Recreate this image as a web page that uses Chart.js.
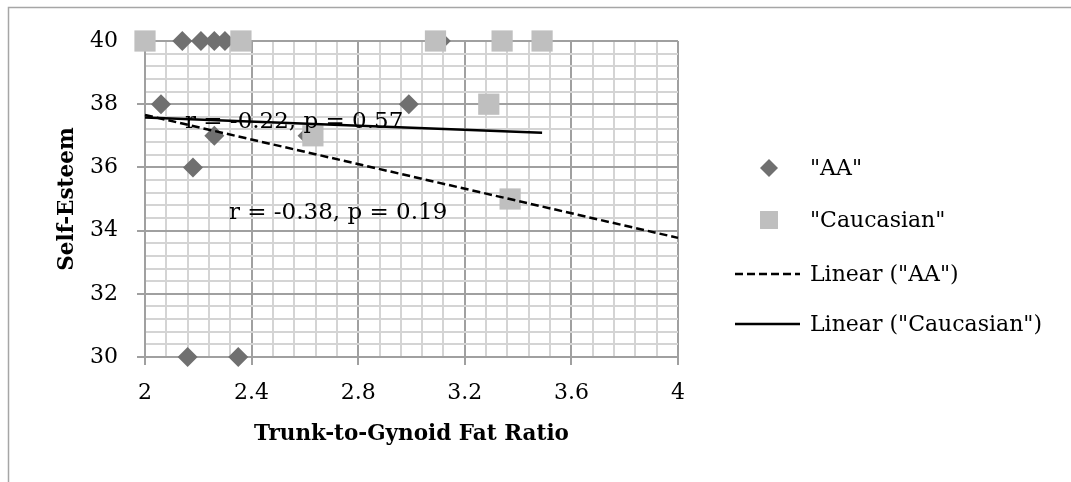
<!DOCTYPE html>
<html>
<head>
<meta charset="utf-8">
<script src="https://cdn.jsdelivr.net/npm/chart.js@4.4.1/dist/chart.umd.min.js"></script>
<style>
  html, body { margin: 0; background: #fff; }
  canvas { display: block; }
</style>
</head>
<body>
<canvas id="chart" width="1071" height="482"></canvas>
<script>
// --- Data ---
const xTickLabels = [2, 2.4, 2.8, 3.2, 3.6, 4];
const yTickLabels = [30, 32, 34, 36, 38, 40];

const aaX = [2.14, 2.21, 2.26, 2.30, 3.11, 2.06, 2.99, 2.26, 2.61, 2.18, 2.16, 2.35];
const aaY = [40, 40, 40, 40, 40, 38, 38, 37, 37, 36, 30, 30];

const cauX = [2.00, 2.36, 3.09, 3.34, 3.49, 3.29, 2.63, 3.37];
const cauY = [40, 40, 40, 40, 40, 38, 37, 35];

// trend line end points
const aaTrendX = [2, 4];
const aaTrendY = [37.66, 33.77];
const cauTrendX = [2, 3.49];
const cauTrendY = [37.58, 37.10];

const noteTexts = ['r = -0.22, p = 0.57', 'r = -0.38, p = 0.19'];
const noteX = [2.15, 2.315];
const noteY = [37.25, 34.37];

// --- Helpers ---
const toPoints = (xs, ys) => xs.map((x, i) => ({ x: x, y: ys[i] }));

// major ticks plus evenly spaced minor ones (for the fine grid)
function withMinor(majors, parts) {
    const out = [];
    majors.forEach((v, i) => {
        out.push({ value: v, isMajor: true });
        if (i < majors.length - 1) {
            const step = (majors[i + 1] - v) / parts;
            for (let k = 1; k < parts; k++) out.push({ value: v + k * step, isMajor: false });
        }
    });
    return out;
}

const MAJOR = '#a0a0a0';
const MINOR = '#d4d4d4';
const gridColor = ctx => (ctx.tick && ctx.tick.isMajor ? MAJOR : MINOR);
const tickMarkColor = ctx => (ctx.tick && ctx.tick.isMajor ? MAJOR : 'rgba(0,0,0,0)');
const majorLabel = (value, index, ticks) => (ticks[index].isMajor ? String(value) : '');

Chart.defaults.font.family = '"DejaVu Serif", serif';
Chart.defaults.font.size = 22;
Chart.defaults.color = '#000';

// border, r/p notes and legend
const decor = {
    id: 'decor',
    beforeDraw(chart) {
        const c = chart.ctx;
        c.save();
        c.fillStyle = '#fff';
        c.fillRect(0, 0, chart.width, chart.height);
        c.strokeStyle = '#a6a6a6';
        c.lineWidth = 1.5;
        c.strokeRect(8.5, 7.5, 1200, 600);
        c.restore();
    },
    afterDraw(chart) {
        const c = chart.ctx;
        const xs = chart.scales.x, ys = chart.scales.y;
        c.save();
        c.fillStyle = '#000';
        c.font = '23px "DejaVu Serif"';
        c.textAlign = 'left';
        c.textBaseline = 'alphabetic';
        noteTexts.forEach((t, i) => c.fillText(t, xs.getPixelForValue(noteX[i]), ys.getPixelForValue(noteY[i])));

        // legend
        const rows = [168, 220, 274, 324];
        const ds = chart.data.datasets;
        c.font = '22px "DejaVu Serif"';
        c.textBaseline = 'middle';
        ds.forEach((d, i) => {
            const y = rows[i];
            if (d.showLine) {
                c.save();
                c.strokeStyle = d.borderColor;
                c.lineWidth = 2.5;
                c.setLineDash(d.borderDash || []);
                c.beginPath();
                c.moveTo(735, y);
                c.lineTo(800, y);
                c.stroke();
                c.restore();
            } else {
                c.fillStyle = d.backgroundColor;
                Chart.helpers.drawPoint(c, {
                    pointStyle: d.pointStyle,
                    radius: d.pointStyle === 'rect' ? 12.7 : 9,
                    rotation: 0,
                    borderWidth: 0
                }, 769, y);
            }
            c.fillStyle = '#000';
            c.fillText(d.label, 810, y + 1);
        });
        c.restore();
    }
};

new Chart(document.getElementById('chart'), {
    type: 'scatter',
    data: {
        datasets: [
            {
                label: '"AA"',
                data: toPoints(aaX, aaY),
                pointStyle: 'rectRot',
                pointRadius: 10,
                backgroundColor: '#707070',
                borderWidth: 0,
                clip: false,
                order: 3
            },
            {
                label: '"Caucasian"',
                data: toPoints(cauX, cauY),
                pointStyle: 'rect',
                pointRadius: 15,
                backgroundColor: '#bfbfbf',
                borderWidth: 0,
                clip: false,
                order: 2
            },
            {
                label: 'Linear ("AA")',
                data: toPoints(aaTrendX, aaTrendY),
                showLine: true,
                pointRadius: 0,
                borderColor: '#000',
                borderWidth: 2.5,
                borderDash: [8, 4],
                clip: false,
                order: 1
            },
            {
                label: 'Linear ("Caucasian")',
                data: toPoints(cauTrendX, cauTrendY),
                showLine: true,
                pointRadius: 0,
                borderColor: '#000',
                borderWidth: 2.5,
                clip: false,
                order: 0
            }
        ]
    },
    options: {
        responsive: false,
        animation: false,
        layout: { padding: { left: 0, right: 393, top: 41, bottom: 0 } },
        plugins: {
            legend: { display: false },
            tooltip: { enabled: false }
        },
        scales: {
            x: {
                type: 'linear',
                min: 2,
                max: 4,
                afterBuildTicks: scale => { scale.ticks = withMinor(xTickLabels, 5); },
                afterFit: scale => { scale.height = 125; },
                ticks: { autoSkip: false, maxRotation: 0, padding: 15, callback: majorLabel },
                grid: { color: gridColor, lineWidth: 2, tickColor: tickMarkColor, tickLength: 8 },
                border: { color: MAJOR, width: 2 },
                title: {
                    display: true,
                    text: 'Trunk-to-Gynoid Fat Ratio',
                    font: { size: 21.5, weight: 'bold' },
                    padding: { top: 0, bottom: 35 }
                }
            },
            y: {
                type: 'linear',
                min: 30,
                max: 40,
                afterBuildTicks: scale => { scale.ticks = withMinor(yTickLabels, 5); },
                afterFit: scale => { scale.width = 145; },
                ticks: { autoSkip: false, padding: 19, callback: majorLabel },
                grid: { color: gridColor, lineWidth: 2, tickColor: tickMarkColor, tickLength: 8 },
                border: { color: MAJOR, width: 2 },
                title: {
                    display: true,
                    text: 'Self-Esteem',
                    font: { size: 21.5, weight: 'bold' },
                    padding: { top: 55, bottom: 0 }
                }
            }
        }
    },
    plugins: [decor]
});
</script>
</body>
</html>
